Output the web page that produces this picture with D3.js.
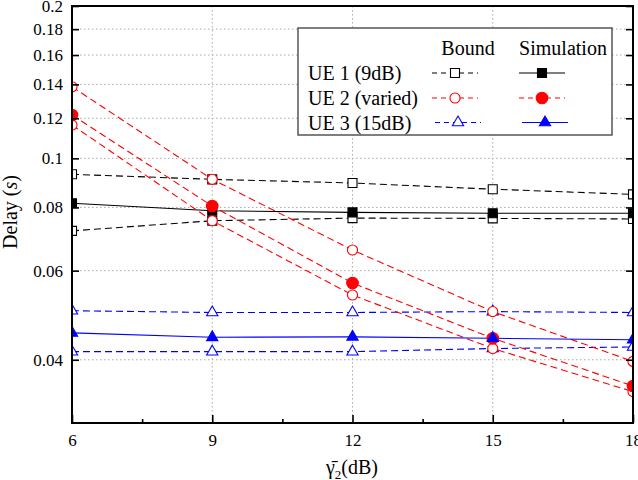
<!DOCTYPE html>
<html><head><meta charset="utf-8">
<script src="https://cdn.jsdelivr.net/npm/d3@7"></script>
<style>
body{margin:0;background:#fff}
svg{display:block}
text{font-family:"Liberation Serif","Times New Roman",serif;fill:#000}
</style>
</head><body>
<svg id="c" width="638" height="480"></svg>
<script>
// ---- data ----
const snr = [6, 9, 12, 15, 18];
const ue1BoundUpper = [0.0930, 0.0909, 0.0894, 0.0869, 0.0849];
const ue1BoundLower = [0.0719, 0.0753, 0.0762, 0.0761, 0.0759];
const ue1Sim        = [0.0815, 0.0788, 0.0782, 0.0779, 0.0779];
const ue2BoundUpper = [0.1385, 0.0909, 0.0659, 0.0498, 0.0397];
const ue2BoundLower = [0.1164, 0.0753, 0.0537, 0.0421, 0.0346];
const ue2Sim        = [0.1218, 0.0805, 0.0567, 0.0441, 0.0355];
const ue3BoundUpper = [0.0500, 0.0496, 0.0496, 0.0498, 0.0496];
const ue3BoundLower = [0.0415, 0.0415, 0.0415, 0.0421, 0.0424];
const ue3Sim        = [0.0452, 0.0443, 0.0444, 0.0441, 0.0438];
const xTickValues = [6, 9, 12, 15, 18];
const xMinorTicks = [7.5, 10.5, 13.5, 16.5];
const yTickValues = [0.04, 0.06, 0.08, 0.1, 0.12, 0.14, 0.16, 0.18, 0.2];
const legendRows = ["UE 1 (9dB)", "UE 2 (varied)", "UE 3 (15dB)"];
const legendHeads = ["Bound", "Simulation"];

// ---- layout ----
const L = 72, R = 633, T = 6, B = 423;
const svg = d3.select("#c");
const x = d3.scaleLinear().domain([6, 18]).range([L, R]);
const y = d3.scaleLog().domain([0.03, 0.2]).range([B, T]);

const RED = "#ff0000", BLUE = "#0000ff", BLK = "#000000";
const DASH = "7,4";

const series = [
  {v: ue1BoundUpper, c: BLK, dash: DASH, m: "square", fill: false},
  {v: ue1BoundLower, c: BLK, dash: DASH, m: "square", fill: false},
  {v: ue3BoundUpper, c: BLUE, dash: DASH, m: "triangle", fill: false},
  {v: ue3BoundLower, c: BLUE, dash: DASH, m: "triangle", fill: false},
  {v: ue1Sim, c: BLK, dash: null, m: "square", fill: true},
  {v: ue2BoundUpper, c: RED, dash: DASH, m: "circle", fill: false},
  {v: ue2BoundLower, c: RED, dash: DASH, m: "circle", fill: false},
  {v: ue2Sim, c: RED, dash: DASH, m: "circle", fill: true},
  {v: ue3Sim, c: BLUE, dash: null, m: "triangle", fill: true}
];

function symbolPath(m, fill) {
  if (m === "square") return d3.symbol(d3.symbolSquare, 81)();
  if (m === "circle") return d3.symbol(d3.symbolCircle, fill ? 106 : 80)();
  return d3.symbol(d3.symbolTriangle, 55)();
}

// clip
svg.append("defs").append("clipPath").attr("id", "clip")
  .append("rect").attr("x", L).attr("y", T).attr("width", R - L).attr("height", B - T);

// grid
const grid = svg.append("g");
grid.selectAll("line.gy").data(yTickValues.filter(d => d < 0.2)).join("line")
  .attr("x1", L).attr("x2", R).attr("y1", d => y(d)).attr("y2", d => y(d))
  .attr("stroke", "#aaa").attr("stroke-width", 1).attr("stroke-dasharray", "1.5,2.5");
grid.selectAll("line.gx").data(xTickValues.filter(d => d > 6 && d < 18)).join("line")
  .attr("y1", T).attr("y2", B).attr("x1", d => x(d)).attr("x2", d => x(d))
  .attr("stroke", "#aaa").attr("stroke-width", 1).attr("stroke-dasharray", "1.5,2.5");

// series
const plot = svg.append("g").attr("clip-path", "url(#clip)");
const line = d3.line().x((d, i) => x(snr[i])).y(d => y(d));
series.forEach(s => {
  plot.append("path").attr("d", line(s.v)).attr("fill", "none")
    .attr("stroke", s.c).attr("stroke-width", 1.1)
    .attr("stroke-dasharray", s.dash);
});
series.forEach(s => {
  plot.selectAll(null).data(s.v).join("path")
    .attr("transform", (d, i) => `translate(${x(snr[i])},${y(d)})`)
    .attr("d", symbolPath(s.m, s.fill))
    .attr("fill", s.fill ? s.c : "#fff")
    .attr("stroke", s.c).attr("stroke-width", 1.1);
});

// axes
const xa = svg.append("g").attr("transform", `translate(0,${B})`)
  .call(d3.axisBottom(x).tickValues(xTickValues).tickSize(-8).tickPadding(11).tickFormat(d => d));
const ya = svg.append("g").attr("transform", `translate(${L},0)`)
  .call(d3.axisLeft(y).tickValues(yTickValues).tickSize(-7).tickPadding(9).tickFormat(d => String(d)));
svg.append("g").attr("transform", `translate(${R},0)`)
  .call(d3.axisRight(y).tickValues(yTickValues).tickSize(-7).tickFormat(""));
svg.append("g").attr("transform", `translate(0,${B})`)
  .call(d3.axisBottom(x).tickValues(xMinorTicks).tickSize(-4).tickFormat(""));
[xa, ya].forEach(g => g.selectAll("text").attr("font-size", 17).attr("font-family", "Liberation Serif").attr("fill", "#000"));
svg.selectAll(".domain").remove();
svg.selectAll(".tick line").attr("stroke", "#000").attr("stroke-width", 1.6);
svg.append("rect").attr("x", L).attr("y", T).attr("width", R - L).attr("height", B - T)
  .attr("fill", "none").attr("stroke", "#000").attr("stroke-width", 2);

// axis titles
const xt = svg.append("text").attr("x", 352).attr("y", 474).attr("text-anchor", "middle").attr("font-size", 20);
xt.append("tspan").text("\u03B3\u0304");
xt.append("tspan").attr("font-size", 13).attr("dy", 5).text("2");
xt.append("tspan").attr("dy", -5).text("(dB)");

const yt = svg.append("text").attr("transform", "translate(17,212) rotate(-90)")
  .attr("text-anchor", "middle").attr("font-size", 20);
yt.append("tspan").text("Delay (");
yt.append("tspan").attr("font-style", "italic").text("s");
yt.append("tspan").text(")");

// legend
const lg = svg.append("g");
lg.append("rect").attr("x", 298).attr("y", 28).attr("width", 314).attr("height", 107)
  .attr("fill", "#fff").attr("stroke", "#555").attr("stroke-width", 1.5);
const headX = [468, 563];
lg.selectAll("text.h").data(legendHeads).join("text")
  .attr("x", (d, i) => headX[i]).attr("y", 55).attr("text-anchor", "middle").attr("font-size", 20).text(d => d);
const rowY = [73, 98, 122.5];
lg.selectAll("text.r").data(legendRows).join("text")
  .attr("x", 308).attr("y", (d, i) => rowY[i] + 7).attr("font-size", 20).text(d => d);
const legendItems = [
  {row: 0, col: 0, s: series[0]}, {row: 0, col: 1, s: series[4]},
  {row: 1, col: 0, s: series[5]}, {row: 1, col: 1, s: series[7]},
  {row: 2, col: 0, s: series[2]}, {row: 2, col: 1, s: series[8]}
];
const colMid = [455, 542];
legendItems.forEach(it => {
  const cx = colMid[it.col] + (it.row === 2 ? 3 : 0), cy = rowY[it.row];
  lg.append("line").attr("x1", cx - 23).attr("x2", cx + 23).attr("y1", cy).attr("y2", cy)
    .attr("stroke", it.s.c).attr("stroke-width", 1.1)
    .attr("stroke-dasharray", it.s.dash ? "5,4" : null);
  lg.append("path").attr("transform", `translate(${cx},${cy})`)
    .attr("d", symbolPath(it.s.m, it.s.fill))
    .attr("fill", it.s.fill ? it.s.c : "#fff").attr("stroke", it.s.c).attr("stroke-width", 1.1);
});
</script>
</body></html>
